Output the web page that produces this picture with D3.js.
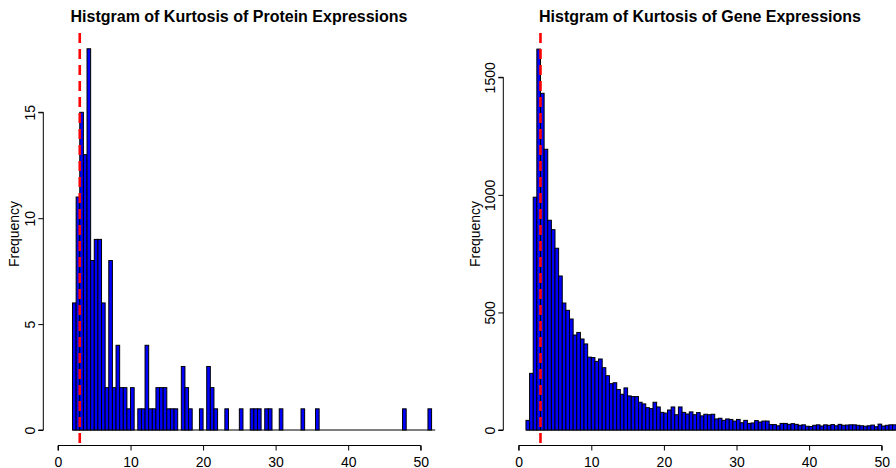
<!DOCTYPE html>
<html>
<head>
<meta charset="utf-8">
<script src="https://cdn.jsdelivr.net/npm/d3@7"></script>
<style>
  html, body { margin: 0; padding: 0; background: #fff; }
  svg { display: block; font-family: "Liberation Sans", Arial, Helvetica, sans-serif; }
</style>
</head>
<body>
<svg id="chart" width="896" height="468"></svg>
<script>
// ---------------- data ----------------
const binWidth = 0.5;
const proteinStart = 2;
const proteinCounts = [
  6, 11, 15, 13, 18, 8, 9, 9, 6, 2,
  8, 2, 4, 2, 2, 1, 2, 0, 1, 1,
  4, 1, 1, 2, 2, 2, 1, 1, 1, 0,
  3, 2, 1, 0, 0, 1, 0, 3, 2, 1,
  0, 0, 1, 0, 0, 0, 1, 0, 0, 1,
  1, 1, 0, 1, 1, 0, 0, 1, 0, 0,
  0, 0, 0, 1, 0, 0, 0, 1, 0, 0,
  0, 0, 0, 0, 0, 0, 0, 0, 0, 0,
  0, 0, 0, 0, 0, 0, 0, 0, 0, 0,
  0, 1, 0, 0, 0, 0, 0, 0, 1, 0
];
const geneStart = 1;
const geneCounts = [
  41, 241, 990, 1620, 1432, 1194, 892, 852, 773, 655,
  540, 509, 472, 404, 415, 387, 366, 310, 308, 292,
  302, 265, 231, 197, 201, 172, 152, 179, 145, 142,
  142, 118, 111, 95, 91, 118, 98, 75, 72, 85,
  98, 65, 98, 75, 68, 77, 65, 74, 60, 67,
  65, 67, 47, 50, 41, 47, 45, 38, 45, 31,
  41, 28, 30, 40, 34, 38, 38, 23, 23, 18,
  28, 28, 24, 27, 24, 20, 22, 16, 15, 20,
  22, 17, 22, 20, 23, 18, 24, 20, 21, 22,
  22, 20, 18, 16, 18, 21, 14, 25, 17, 20,
  22, 22
];
const xTicks = [0, 10, 20, 30, 40, 50];
const proteinYTicks = [0, 5, 10, 15];
const geneYTicks = [0, 500, 1000, 1500];
const refLine = 3;
const titles = ["Histgram of Kurtosis of Protein Expressions", "Histgram of Kurtosis of Gene Expressions"];
const yLabel = "Frequency";

// ---------------- drawing ----------------
const svg = d3.select("#chart");

function panel(cfg) {
  const g = svg.append("g");
  const x = d3.scaleLinear().domain([0, 50]).range([cfg.x0, cfg.x50]);
  const y = d3.scaleLinear().domain([0, cfg.yRefVal]).range([430, cfg.yRefPx]);
  const bins = cfg.counts.map((c, i) => ({
    x0: cfg.start + i * binWidth,
    x1: cfg.start + (i + 1) * binWidth,
    c: c
  }));

  // baseline of empty bins
  g.append("line")
    .attr("x1", x(bins[0].x0)).attr("x2", x(bins[bins.length - 1].x1))
    .attr("y1", y(0)).attr("y2", y(0))
    .attr("stroke", "#000").attr("stroke-width", 1);

  g.selectAll("rect.bar").data(bins.filter(b => b.c > 0)).join("rect")
    .attr("class", "bar")
    .attr("x", b => x(b.x0))
    .attr("width", b => x(b.x1) - x(b.x0))
    .attr("y", b => y(b.c))
    .attr("height", b => y(0) - y(b.c))
    .attr("fill", "#0000ff")
    .attr("stroke", "#000")
    .attr("stroke-width", 1);

  // y axis
  const yAxis = d3.axisLeft(y).tickValues(cfg.yTicks).tickSize(5).tickFormat(d3.format("d"));
  const ya = g.append("g").attr("transform", `translate(${cfg.yAxisX},0)`).call(yAxis);
  ya.select(".domain").attr("d", `M-5,${y(cfg.yTicks[0])}H0V${y(cfg.yTicks[cfg.yTicks.length-1])}H-5`);
  ya.selectAll(".tick line").attr("stroke", "#000");
  ya.selectAll(".tick text")
    .attr("x", null).attr("dy", null)
    .attr("transform", "translate(-8,0) rotate(-90)")
    .attr("text-anchor", "middle")
    .attr("font-size", 14)
    .attr("fill", "#000")
    .attr("font-family", "Liberation Sans, Arial, sans-serif");

  // x axis
  const xAxis = d3.axisBottom(x).tickValues(xTicks).tickSize(5).tickFormat(d3.format("d"));
  const xa = g.append("g").attr("transform", `translate(0,445.5)`).call(xAxis);
  xa.select(".domain").attr("d", `M${x(0)},5V0H${x(50)}V5`);
  xa.selectAll(".tick line").attr("stroke", "#000");
  xa.selectAll(".tick text")
    .attr("y", 21).attr("dy", null)
    .attr("font-size", 14)
    .attr("fill", "#000")
    .attr("font-family", "Liberation Sans, Arial, sans-serif");

  // reference line
  g.append("line")
    .attr("x1", x(refLine)).attr("x2", x(refLine))
    .attr("y1", 33).attr("y2", 445.5)
    .attr("stroke", "#ff0000").attr("stroke-width", 2.6)
    .attr("stroke-dasharray", "10,6");

  // labels
  g.append("text")
    .attr("x", cfg.titleX).attr("y", 21.5)
    .attr("text-anchor", "middle")
    .attr("font-size", 16).attr("font-weight", "bold")
    .text(cfg.title);
  g.append("text")
    .attr("transform", `translate(${cfg.labX},234) rotate(-90)`)
    .attr("text-anchor", "middle")
    .attr("dominant-baseline", "central")
    .attr("font-size", 14)
    .text(yLabel);
}

panel({ counts: proteinCounts, start: proteinStart, x0: 58, x50: 420.7,
  yRefVal: 15, yRefPx: 112.3, yTicks: proteinYTicks, yAxisX: 43.3,
  title: titles[0], titleX: 239, labX: 13.5 });
panel({ counts: geneCounts, start: geneStart, x0: 518.7, x50: 881.7,
  yRefVal: 1500, yRefPx: 77.3, yTicks: geneYTicks, yAxisX: 503.3,
  title: titles[1], titleX: 700, labX: 475 });
</script>
</body>
</html>
